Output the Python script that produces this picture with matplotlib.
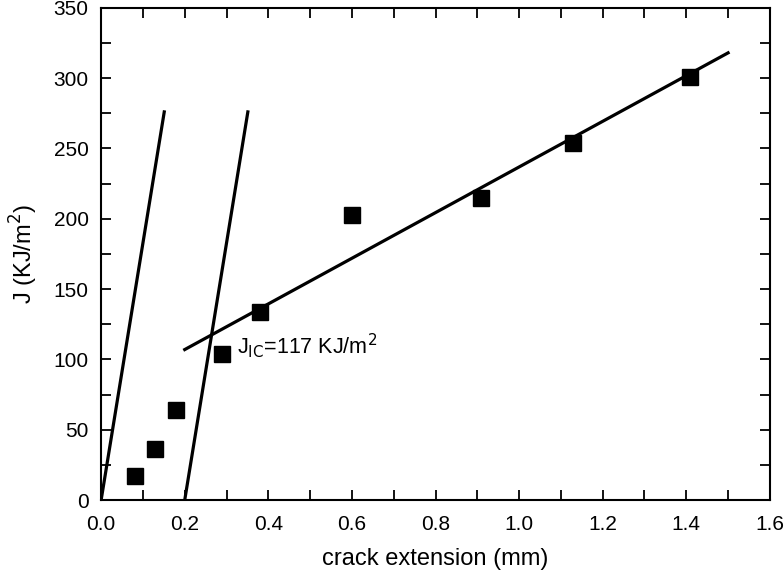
import numpy as np
import matplotlib
matplotlib.use("Agg")
import matplotlib.pyplot as plt

plt.rcParams['font.family'] = ['Liberation Sans', 'DejaVu Sans']

# datos medidos
crack = [0.08, 0.13, 0.18, 0.29, 0.38, 0.60, 0.91, 1.13, 1.41]
J = [17, 36, 64, 104, 134, 203, 215, 254, 301]

# lineas de enromamiento y ajuste
blunt1_x = [0.0, 0.151]
blunt1_y = [0, 276]
blunt2_x = [0.2, 0.351]
blunt2_y = [0, 276]
fit_x = [0.2, 1.5]
fit_y = [107, 318]

fig = plt.figure(figsize=(7.84, 5.77), dpi=100)
ax = fig.add_axes([0.129, 0.1334, 0.853, 0.853])

ax.plot(blunt1_x, blunt1_y, color='black', linewidth=2.3)
ax.plot(blunt2_x, blunt2_y, color='black', linewidth=2.3)
ax.plot(fit_x, fit_y, color='black', linewidth=2.3)
ax.plot(crack, J, linestyle='none', marker='s', markersize=11.5, color='black')

ax.text(0.325, 110, r'J$_{\rm IC}$=117 KJ/m$^{2}$', fontsize=15.5, va='center')

ax.set_xlim(0, 1.6)
ax.set_ylim(0, 350)
ax.set_xticks(np.arange(0, 1.61, 0.2))
ax.set_xticklabels(['0.0', '0.2', '0.4', '0.6', '0.8', '1.0', '1.2', '1.4', '1.6'])
ax.set_yticks(np.arange(0, 351, 50))
ax.set_xticks(np.arange(0.1, 1.6, 0.2), minor=True)
ax.set_yticks(np.arange(25, 350, 50), minor=True)
ax.tick_params(which='both', direction='in', top=True, right=True, length=7, width=1.3, labelsize=15)
ax.tick_params(axis='x', pad=11)
ax.tick_params(axis='y', pad=9)
for s in ax.spines.values():
    s.set_linewidth(1.5)

ax.set_xlabel('crack extension (mm)', fontsize=17, labelpad=10)
ax.set_ylabel(r'J (KJ/m$^{2}$)', fontsize=17, labelpad=10)

fig.savefig('out.png', dpi=100)
